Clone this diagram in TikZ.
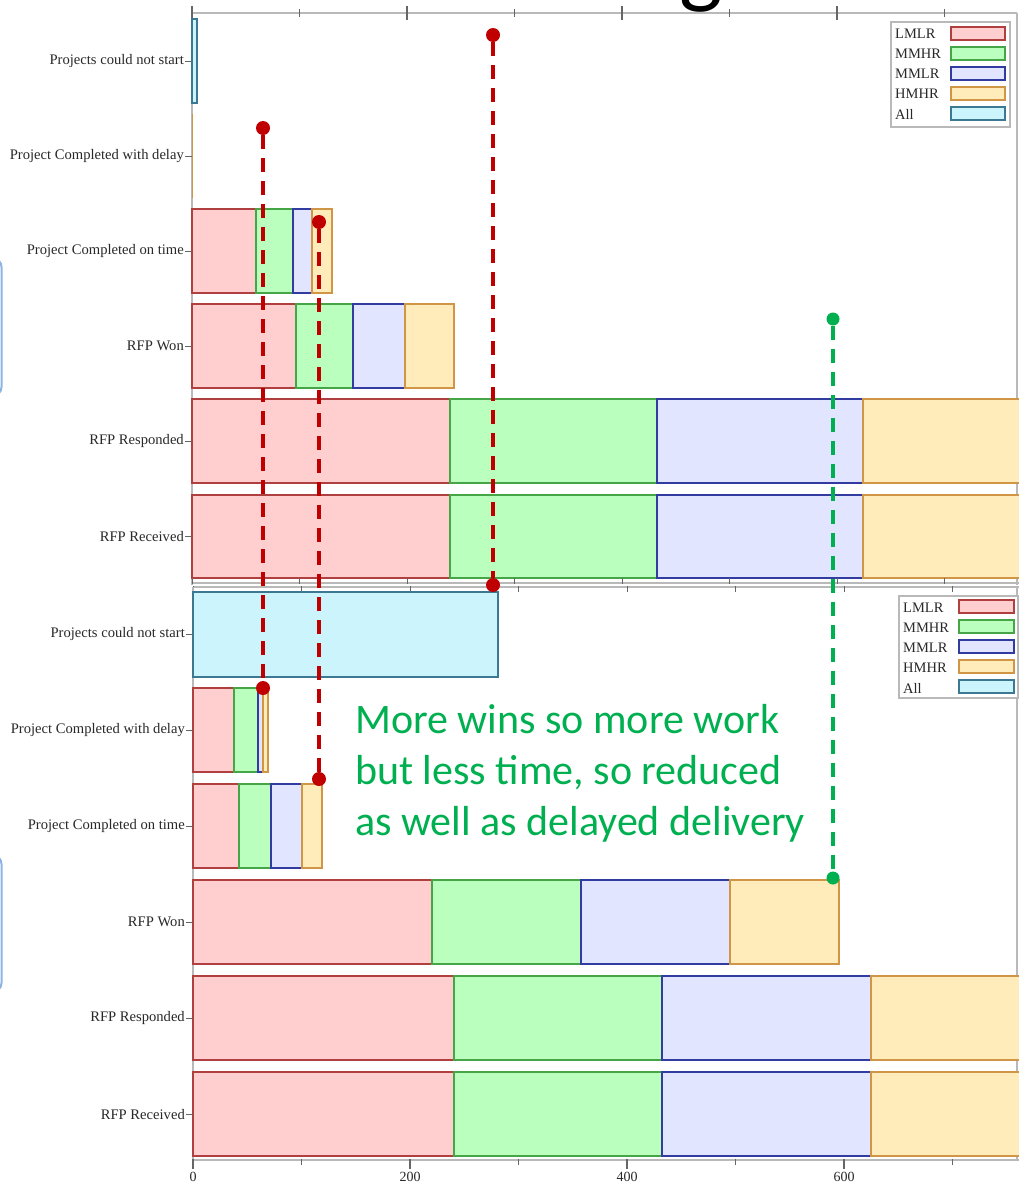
\documentclass[tikz,border=0pt]{standalone}
\usepackage{fontspec}
\setmainfont{Liberation Serif}
\newfontfamily\carlito{Carlito}
\definecolor{lmlrfill}{RGB}{255,206,206}
\definecolor{lmlrline}{RGB}{176,64,64}
\definecolor{mmhrfill}{RGB}{186,255,190}
\definecolor{mmhrline}{RGB}{70,165,70}
\definecolor{mmlrfill}{RGB}{225,229,255}
\definecolor{mmlrline}{RGB}{50,60,160}
\definecolor{hmhrfill}{RGB}{255,236,186}
\definecolor{hmhrline}{RGB}{208,150,70}
\definecolor{allfill}{RGB}{204,244,252}
\definecolor{allline}{RGB}{60,120,145}
\definecolor{axisgray}{RGB}{185,185,185}
\definecolor{labelgray}{RGB}{40,40,40}
\definecolor{markred}{RGB}{192,0,0}
\definecolor{markgreen}{RGB}{0,176,80}
\definecolor{panelblue}{RGB}{141,180,226}
\begin{document}
\begin{tikzpicture}[x=1pt,y=-1pt,
  seg/.style={line width=1.3pt},
  lmlr/.style={seg, fill=lmlrfill, draw=lmlrline},
  mmhr/.style={seg, fill=mmhrfill, draw=mmhrline},
  mmlr/.style={seg, fill=mmlrfill, draw=mmlrline},
  hmhr/.style={seg, fill=hmhrfill, draw=hmhrline},
  allbar/.style={seg, fill=allfill, draw=allline},
  axisline/.style={draw=axisgray, line width=1.4pt},
  tickmark/.style={draw=gray!80!black, line width=0.8pt},
  catlabel/.style={anchor=east, inner sep=0pt, text=labelgray, font=\fontsize{14.6}{17}\selectfont},
  legtext/.style={anchor=west, inner sep=0pt, text=labelgray, font=\fontsize{14.5}{17}\selectfont},
  legbox/.style={draw=axisgray, line width=1.2pt, fill=white},
  ticklabel/.style={anchor=center, inner sep=0pt, text=labelgray, font=\fontsize{14}{16}\selectfont},
  reddot/.style={circle, fill=markred, inner sep=0pt, minimum size=14pt},
  greendot/.style={circle, fill=markgreen, inner sep=0pt, minimum size=13pt},
  reddash/.style={draw=markred, line width=3.6pt, dash pattern=on 14pt off 9pt},
  greendash/.style={draw=markgreen, line width=3.6pt, dash pattern=on 14pt off 9pt},
  notetext/.style={anchor=base west, inner sep=0pt, text=markgreen, font=\carlito\fontsize{42}{51}\selectfont},
  sidepanel/.style={draw=panelblue, line width=2pt, rounded corners=9pt}
]
\useasboundingbox (0,0) rectangle (1019,1186);
\clip (0,0) rectangle (1019,1186);

% heading fragment at the very top
\node[anchor=base, inner sep=0pt, font=\carlito\fontsize{92}{92}\selectfont] (heading) at (701,-4) {g};

% side panels on the left margin
\draw[sidepanel] (-60,258) rectangle (1.5,396);
\draw[sidepanel] (-60,855) rectangle (1.5,992);

% ---------------- upper chart ----------------
% axes
\draw[axisline] (192,13) -- (1017,13);
\draw[axisline] (192,13) -- (192,585);
\draw[axisline] (1017,13) -- (1017,585);
\foreach \k in {0,...,7} {
  \pgfmathsetmacro{\tx}{192+107.5*\k}
  \ifodd\k
    \draw[tickmark] (\tx,9) -- (\tx,17);
  \else
    \draw[tickmark, line width=1.1pt] (\tx,6) -- (\tx,20);
  \fi
}

% bars
\draw[allbar] (192,19) rectangle (197,103);
\draw[hmhrline, line width=1.2pt] (192.5,114) -- (192.5,198);

\draw[lmlr] (192,209) rectangle (256,293);
\draw[mmhr] (256,209) rectangle (293,293);
\draw[mmlr] (293,209) rectangle (312,293);
\draw[hmhr] (312,209) rectangle (332,293);

\draw[lmlr] (192,304) rectangle (296,388);
\draw[mmhr] (296,304) rectangle (353,388);
\draw[mmlr] (353,304) rectangle (405,388);
\draw[hmhr] (405,304) rectangle (454,388);

\foreach \ya/\yb in {399/483, 495/578} {
  \draw[lmlr] (192,\ya) rectangle (450,\yb);
  \draw[mmhr] (450,\ya) rectangle (657,\yb);
  \draw[mmlr] (657,\ya) rectangle (863,\yb);
  \draw[hmhr] (863,\ya) rectangle (1030,\yb);
}

% category labels
\foreach \yc/\txt in {61/Projects could not start, 156/Project Completed with delay,
  251/Project Completed on time, 346/RFP Won, 441/RFP Responded, 536/RFP Received} {
  \draw[tickmark] (185,\yc) -- (192,\yc);
  \node[catlabel] at (184,\yc) {\txt};
}

% legend
\draw[legbox] (891,22) rectangle (1010,127);
\foreach \i/\txt/\sty in {0/LMLR/lmlr, 1/MMHR/mmhr, 2/MMLR/mmlr, 3/HMHR/hmhr, 4/All/allbar} {
  \node[legtext] at (895,34+20*\i) {\txt};
  \draw[\sty] (951,27+20*\i) rectangle (1005,40+20*\i);
}

% ---------------- shared middle axis ----------------
\draw[axisline] (192,583) -- (1019,583);
\draw[axisline] (193,587) -- (1019,587);
\foreach \k in {0,...,7} {
  \pgfmathsetmacro{\tx}{192+107.5*\k}
  \draw[tickmark] (\tx,578) -- (\tx,584);
  \pgfmathsetmacro{\ux}{193+108.5*\k}
  \draw[tickmark] (\ux,586) -- (\ux,592);
}

% ---------------- lower chart ----------------
\draw[axisline] (193,587) -- (193,1160);
\draw[axisline] (1017,587) -- (1017,1160);
\draw[axisline] (193,1160) -- (1019,1160);
\foreach \k in {0,...,7} {
  \pgfmathsetmacro{\tx}{193+108.5*\k}
  \ifodd\k
    \draw[tickmark] (\tx,1159) -- (\tx,1165);
  \else
    \draw[tickmark, line width=1.1pt] (\tx,1159) -- (\tx,1169);
  \fi
}
\foreach \k/\v in {0/0, 2/200, 4/400, 6/600} {
  \node[ticklabel] at (193+108.5*\k,1177) {\v};
}

% bars
\draw[allbar] (193,592) rectangle (498,677);

\draw[lmlr] (193,688) rectangle (234,772);
\draw[mmhr] (234,688) rectangle (258,772);
\draw[mmlr] (258,688) rectangle (263,772);
\draw[hmhr] (263,688) rectangle (268,772);

\draw[lmlr] (193,784) rectangle (239,868);
\draw[mmhr] (239,784) rectangle (271,868);
\draw[mmlr] (271,784) rectangle (302,868);
\draw[hmhr] (302,784) rectangle (322,868);

\draw[lmlr] (193,880) rectangle (432,964);
\draw[mmhr] (432,880) rectangle (581,964);
\draw[mmlr] (581,880) rectangle (730,964);
\draw[hmhr] (730,880) rectangle (839,964);

\foreach \ya/\yb in {976/1060, 1072/1156} {
  \draw[lmlr] (193,\ya) rectangle (454,\yb);
  \draw[mmhr] (454,\ya) rectangle (662,\yb);
  \draw[mmlr] (662,\ya) rectangle (871,\yb);
  \draw[hmhr] (871,\ya) rectangle (1030,\yb);
}

% category labels
\foreach \yc/\txt in {634/Projects could not start, 730/Project Completed with delay,
  826/Project Completed on time, 922/RFP Won, 1018/RFP Responded, 1114/RFP Received} {
  \draw[tickmark] (186,\yc) -- (193,\yc);
  \node[catlabel] at (185,\yc) {\txt};
}

% legend
\draw[legbox] (899,596) rectangle (1018,698);
\foreach \i/\txt/\sty in {0/LMLR/lmlr, 1/MMHR/mmhr, 2/MMLR/mmlr, 3/HMHR/hmhr, 4/All/allbar} {
  \node[legtext] at (903,608+20*\i) {\txt};
  \draw[\sty] (959,600+20*\i) rectangle (1014,613+20*\i);
}

% ---------------- comparison markers ----------------
\node[reddot] (delayTop) at (263,128) {};
\node[reddot] (delayBot) at (263,688) {};
\node[reddot] (ontimeTop) at (319,222) {};
\node[reddot] (ontimeBot) at (319,779) {};
\node[reddot] (notstartTop) at (493,35) {};
\node[reddot] (notstartBot) at (493,585) {};
\node[greendot] (wonTop) at (833,319) {};
\node[greendot] (wonBot) at (833,878) {};

\draw[reddash] (delayTop) -- (delayBot);
\draw[reddash] (ontimeTop) -- (ontimeBot);
\draw[reddash] (notstartTop) -- (notstartBot);
\draw[greendash] (wonTop) -- (wonBot);

% note
\node[notetext] (note1) at (355,733) {More wins so more work};
\node[notetext] (note2) at (355,784) {but less time, so reduced};
\node[notetext] (note3) at (355,835) {as well as delayed delivery};
\end{tikzpicture}
\end{document}
